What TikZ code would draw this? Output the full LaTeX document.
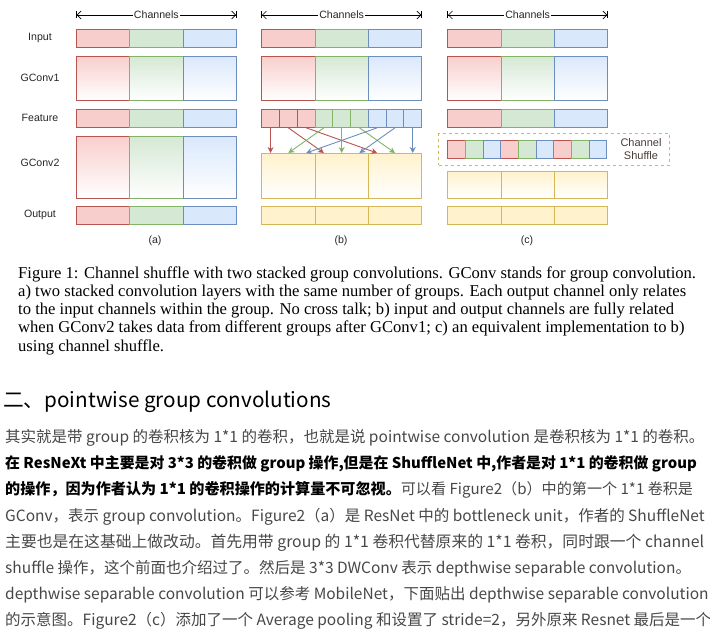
\documentclass[tikz,border=0pt]{standalone}
\usepackage{fontspec}
\setmainfont{Liberation Serif}
\newfontfamily\hv{Liberation Sans}
\newfontfamily\cjk{Noto Sans CJK SC}
\usepackage{tikz}
\usetikzlibrary{arrows.meta,positioning,calc}
\definecolor{rf}{HTML}{F8CECC}
\definecolor{rd}{HTML}{B85450}
\definecolor{gf}{HTML}{D5E8D4}
\definecolor{gd}{HTML}{82B366}
\definecolor{bf}{HTML}{DAE8FC}
\definecolor{bd}{HTML}{6C8EBF}
\definecolor{yf}{HTML}{FFF2CC}
\definecolor{yd}{HTML}{D6B656}
\definecolor{shtxt}{HTML}{4A3A3A}
\tikzset{
  cell/.style={draw,line width=0.8pt,inner sep=0pt,anchor=north west,minimum height=18},
  lab/.style={font=\hv\fontsize{10.6}{12.5}\selectfont,text=black!85},
  arr/.style={-{Stealth[length=6pt,width=6pt]},line width=0.9pt},
  chan/.style={{Bar[width=7pt]Straight Barb[length=4pt,width=8pt]}-{Straight Barb[length=4pt,width=8pt]Bar[width=7pt]},line width=0.7pt},
  shufbox/.style={draw=yd,dashed,line width=0.9pt,inner sep=0pt,anchor=north west},
  captxt/.style={anchor=west,inner sep=0pt,font=\fontsize{16.6}{18}\selectfont},
  body/.style={anchor=west,inner sep=0pt,font=\cjk\fontsize{15.5}{20}\selectfont,text=black!72},
  headtxt/.style={anchor=west,inner sep=0pt,font=\cjk\fontsize{20.7}{24}\selectfont,text=black},
}
\begin{document}
\begin{tikzpicture}[x=1pt,y=-1pt]
\useasboundingbox (0,0) rectangle (710,642);
% rows shared by all three panels
\foreach \p/\x in {a/76,b/261.3,c/447.3}{
  \foreach \k/\q in {0/r,1/g,2/b}{
    \node[cell,draw=\q d,fill=\q f,minimum width=53.3] (in\p\k) at (\x+\k*53.3,29) {};
    \node[cell,draw=\q d,top color=\q f,bottom color=white,minimum width=53.3,minimum height=44.3] (ga\p\k) at (\x+\k*53.3,55.7) {};
  }
  \coordinate (cl\p) at ($(in\p0.north west)+(0,-14)$);
  \coordinate (cr\p) at ($(in\p2.north east)+(0,-14)$);
  \draw[chan] (cl\p) -- (cr\p) node[midway,fill=white,inner sep=1pt,lab] (ch\p) {Channels};
}
% panel a
\foreach \k/\q in {0/r,1/g,2/b}{
  \node[cell,draw=\q d,fill=\q f,minimum width=53.3] (fa\k) at (76+\k*53.3,109) {};
  \node[cell,draw=\q d,top color=\q f,bottom color=white,minimum width=53.3,minimum height=62] (g2a\k) at (76+\k*53.3,135.7) {};
  \node[cell,draw=\q d,fill=\q f,minimum width=53.3] (oa\k) at (76+\k*53.3,206) {};
}
% panel b
\foreach \k/\q in {0/r,1/g,2/b}{
  \foreach \j in {0,1,2}{
    \pgfmathtruncatemacro\idx{3*\k+\j}
    \node[cell,draw=\q d,fill=\q f,minimum width=17.77] (fb\idx) at (261.3+\idx*17.77,109) {};
  }
  \node[cell,draw=yd,top color=yf,bottom color=white,minimum width=53.3,minimum height=44.7] (g2b\k) at (261.3+\k*53.3,153) {};
  \node[cell,draw=yd,fill=yf,minimum width=53.3] (ob\k) at (261.3+\k*53.3,206) {};
}
\foreach \k/\q in {0/rd,1/gd,2/bd}
  \foreach \j in {0,1,2}{
    \pgfmathtruncatemacro\src{3*\k+\j}
    \pgfmathtruncatemacro\dst{3*\j+\k}
    \draw[arr,draw=\q] (fb\src.south) -- (fb\dst.south |- g2b0.north);
  }
% panel c
\node[shufbox,minimum width=230.7,minimum height=31.7] (shuf) at (438.3,133.3) {};
\node[lab,align=center,text=shtxt,font=\hv\fontsize{11}{13}\selectfont] (shlab) at (641,149.5) {Channel\\Shuffle};
\foreach \k/\q in {0/r,1/g,2/b}{
  \node[cell,draw=\q d,fill=\q f,minimum width=53.3] (fc\k) at (447.3+\k*53.3,109) {};
  \foreach \j in {0,1,2}{
    \pgfmathtruncatemacro\idx{3*\j+\k}
    \node[cell,draw=\q d,fill=\q f,minimum width=17.66,minimum height=17.7] (sc\idx) at (447.3+\idx*17.66,140) {};
  }
  \node[cell,draw=yd,top color=yf,bottom color=white,minimum width=53.3,minimum height=26.7] (g2c\k) at (447.3+\k*53.3,171) {};
  \node[cell,draw=yd,fill=yf,minimum width=53.3] (oc\k) at (447.3+\k*53.3,206) {};
}
% row and panel labels
\node[lab] (lin) at (40,38) {Input};
\node[lab] (lg1) at (40,78) {GConv1};
\node[lab] (lft) at (40,118) {Feature};
\node[lab] (lg2) at (40,163) {GConv2};
\node[lab] (lout) at (40,215) {Output};
\node[lab] (pa) at (155,241) {(a)};
\node[lab] (pb) at (341,241) {(b)};
\node[lab] (pc) at (527,241) {(c)};
% caption
\node[captxt] (cap1) at (18,274) {Figure 1: Channel shuffle with two stacked group convolutions. GConv stands for group convolution.};
\node[captxt] (cap2) at (18,292) {a) two stacked convolution layers with the same number of groups. Each output channel only relates};
\node[captxt] (cap3) at (18,310) {to the input channels within the group. No cross talk; b) input and output channels are fully related};
\node[captxt] (cap4) at (18,328) {when GConv2 takes data from different groups after GConv1; c) an equivalent implementation to b)};
\node[captxt] (cap5) at (18,347) {using channel shuffle.};
% text below
\node[headtxt] (head) at (3,402) {二、pointwise group convolutions};
\node[body] (t1) at (5,438) {其实就是带 group 的卷积核为 1*1 的卷积，也就是说 pointwise convolution 是卷积核为 1*1 的卷积。};
\node[body,font=\cjk\fontsize{14.9}{20}\selectfont] (t2) at (5,464) {\color{black}\bfseries 在 ResNeXt 中主要是对 3*3 的卷积做 group 操作,但是在 ShuffleNet 中,作者是对 1*1 的卷积做 group};
\node[body,font=\cjk\fontsize{15.1}{20}\selectfont] (t3) at (5,490) {{\color{black}\bfseries 的操作，因为作者认为 1*1 的卷积操作的计算量不可忽视。}可以看 Figure2（b）中的第一个 1*1 卷积是};
\node[body] (t4) at (5,517) {GConv，表示 group convolution。Figure2（a）是 ResNet 中的 bottleneck unit，作者的 ShuffleNet};
\node[body,font=\cjk\fontsize{15.8}{20}\selectfont] (t5) at (5,543) {主要也是在这基础上做改动。首先用带 group 的 1*1 卷积代替原来的 1*1 卷积，同时跟一个 channel};
\node[body] (t6) at (5,569) {shuffle 操作，这个前面也介绍过了。然后是 3*3 DWConv 表示 depthwise separable convolution。};
\node[body] (t7) at (5,595) {depthwise separable convolution 可以参考 MobileNet，下面贴出 depthwise separable convolution};
\node[body] (t8) at (5,621) {的示意图。Figure2（c）添加了一个 Average pooling 和设置了 stride=2，另外原来 Resnet 最后是一个};
\end{tikzpicture}
\end{document}
